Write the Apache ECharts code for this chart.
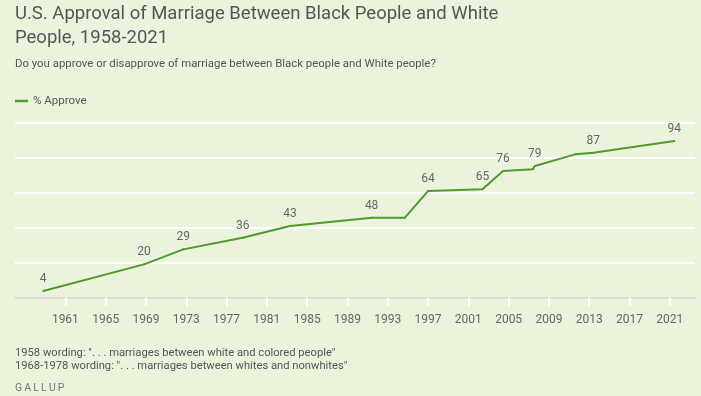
<!DOCTYPE html>
<html lang="en">
<head>
  <meta charset="utf-8">
  <title>Approval of Marriage Between Black People and White People</title>
  <script src="https://cdn.jsdelivr.net/npm/echarts@6/dist/echarts.min.js"></script>
  <style>
    html, body { margin: 0; padding: 0; background: #ebf3dd; }
    #chart { width: 701px; height: 396px; }
  </style>
</head>
<body>
<div id="chart"></div>
<script>
  // survey dates as decimal years
  const years = [1958.8, 1968.8, 1972.7, 1978.6, 1983.3, 1991.4, 1994.7, 1997.0,
    2002.4, 2004.45, 2007.4, 2007.6, 2011.6, 2013.4, 2021.45];
  const approve = [4, 20, 29, 36, 43, 48, 48, 64, 65, 76, 77, 79, 86, 87, 94];
  // which points carry a value label
  const labeled = [0, 1, 2, 3, 4, 5, 7, 8, 9, 11, 13, 14];
  const tickYears = [1961, 1965, 1969, 1973, 1977, 1981, 1985, 1989, 1993,
    1997, 2001, 2005, 2009, 2013, 2017, 2021];

  const font = 'Roboto, "Open Sans", sans-serif';
  const grey = '#666';

  let chart = echarts.init(document.getElementById('chart'));
  let option = {
    backgroundColor: '#ebf3dd',
    animation: false,
    textStyle: { fontFamily: font },
    title: [
      {
        text: 'U.S. Approval of Marriage Between Black People and White\nPeople, 1958-2021',
        left: 10, top: -3,
        textStyle: { fontSize: 18.5, fontWeight: 'normal', color: '#555', lineHeight: 24, fontFamily: font }
      },
      {
        text: 'Do you approve or disapprove of marriage between Black people and White people?',
        left: 10, top: 54,
        textStyle: { fontSize: 11.4, fontWeight: 'normal', color: '#555', fontFamily: font }
      },
      {
        text: '1958 wording: ". . . marriages between white and colored people"\n1968-1978 wording: ". . . marriages between whites and nonwhites"',
        left: 10, top: 341,
        textStyle: { fontSize: 11.2, fontWeight: 'normal', color: '#555', lineHeight: 13.5, fontFamily: font }
      },
      {
        text: 'G\u2009A\u2009L\u2009L\u2009U\u2009P',
        left: 10, top: 378,
        textStyle: { fontSize: 10.5, fontWeight: 'normal', color: '#777', fontFamily: font }
      }
    ],
    legend: {
      left: 10, top: 90,
      icon: 'rect',
      itemWidth: 13, itemHeight: 2.5,
      itemGap: 6,
      textStyle: { fontSize: 11.5, color: '#555', fontFamily: font },
      data: ['% Approve']
    },
    grid: { left: 15, right: 6, top: 122.7, bottom: 98.3 },
    xAxis: {
      type: 'value',
      min: 1956,
      max: 2023.5,
      splitLine: { show: false },
      axisLine: { show: true, lineStyle: { color: '#dcdfd6', width: 2 } },
      axisTick: {
        show: true, length: 8, customValues: tickYears,
        lineStyle: { color: '#ffffff', width: 2 }
      },
      axisLabel: {
        customValues: tickYears,
        margin: 16,
        fontSize: 12, color: grey, fontFamily: font,
        formatter: v => String(v)
      }
    },
    yAxis: {
      type: 'value',
      min: 0,
      max: 105,
      interval: 21,
      axisLabel: { show: false },
      axisLine: { show: false },
      axisTick: { show: false },
      splitLine: { lineStyle: { color: '#ffffff', width: 2 } }
    },
    series: [{
      name: '% Approve',
      type: 'line',
      symbol: 'circle',
      symbolSize: 2,
      showSymbol: true,
      color: '#4e9a2c',
      itemStyle: { color: '#4e9a2c' },
      lineStyle: { width: 2, color: '#4e9a2c' },
      label: {
        show: true, fontSize: 12, color: grey, fontFamily: font, position: 'top', distance: 5,
        formatter: p => labeled.includes(p.dataIndex) ? String(p.value[1]) : ''
      },
      data: years.map((y, i) => [y, approve[i]])
    }]
  };
  chart.setOption(option);
</script>
</body>
</html>
